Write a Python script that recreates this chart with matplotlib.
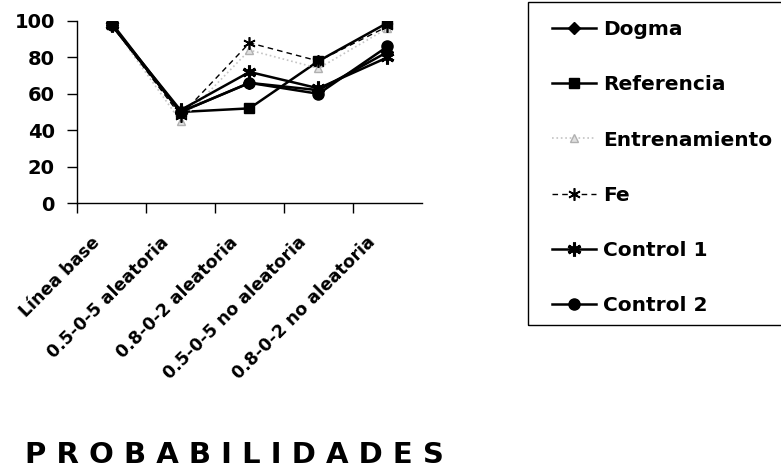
import matplotlib
matplotlib.use("Agg")
import matplotlib.pyplot as plt
from matplotlib.transforms import ScaledTranslation
from matplotlib.patches import Rectangle

plt.rcParams['font.family'] = ['DejaVu Sans']
plt.rcParams['font.weight'] = 'bold'

# categories and series
categorias = ['Línea base', '0.5-0-5 aleatoria', '0.8-0-2 aleatoria',
              '0.5-0-5 no aleatoria', '0.8-0-2 no aleatoria']
dogma = [98, 50, 66, 62, 83]
referencia = [99, 50, 52, 78, 99]
entrenamiento = [98, 45, 84, 74, 96]
fe = [98, 48, 88, 78, 97]
control1 = [98, 51, 72, 63, 80]
control2 = [98, 50, 66, 60, 86]
yticks = [0, 20, 40, 60, 80, 100]

W, H = 781, 469
fig = plt.figure(figsize=(W / 100, H / 100), dpi=100)
ax = fig.add_axes([77 / W, (H - 203) / H, 345 / W, 182 / H])

x = range(len(categorias))
asterisco = (6, 2, 0)

ax.plot(x, dogma, color='black', lw=1.8, marker='D', ms=6, label='Dogma')
ax.plot(x, referencia, color='black', lw=1.8, marker='s', ms=7.5, label='Referencia')
ax.plot(x, entrenamiento, color='#c4c4c4', lw=1.2, ls=':', marker='^', ms=6,
        mfc='#e0e0e0', mec='#b0b0b0', label='Entrenamiento')
ax.plot(x, fe, color='black', lw=1.0, ls=(0, (4, 3)), marker=asterisco, ms=9,
        mew=1.2, label='Fe')
ax.plot(x, control1, color='black', lw=1.8, marker=asterisco, ms=10, mew=2.2,
        label='Control 1')
ax.plot(x, control2, color='black', lw=1.8, marker='o', ms=8, label='Control 2')

ax.set_xlim(-0.5, len(categorias) - 0.5)
ax.set_ylim(0, 100)
for s in ['top', 'right']:
    ax.spines[s].set_visible(False)
for s in ['left', 'bottom']:
    ax.spines[s].set_linewidth(1.0)

ax.set_yticks(yticks)
ax.set_yticklabels([str(v) for v in yticks], fontsize=14, fontweight='bold')
ax.tick_params(axis='y', direction='out', length=7, width=1, pad=9)

ax.set_xticks(list(x))
ax.set_xticks([-0.5, 0.5, 1.5, 2.5, 3.5], minor=True)
ax.tick_params(axis='x', which='major', length=0, pad=0)
ax.tick_params(axis='x', which='minor', direction='out', length=7, width=1)
ax.set_xticklabels(categorias, rotation=45, ha='right', va='top',
                   rotation_mode='anchor', fontsize=12.5, fontweight='bold')
offset = ScaledTranslation(-0.21, -0.30, fig.dpi_scale_trans)
for lab in ax.get_xticklabels():
    lab.set_transform(lab.get_transform() + offset)

# legend with its own frame
leg = ax.legend(loc='upper left', bbox_to_anchor=(552 / W, 1 - 20 / H),
                bbox_transform=fig.transFigure, frameon=False, borderpad=0,
                handlelength=2.2, handletextpad=0.35, labelspacing=1.8,
                prop={'size': 14.5, 'weight': 'bold'}, borderaxespad=0)
fig.patches.append(Rectangle((528 / W, (H - 325) / H), 300 / W, 323 / H,
                             transform=fig.transFigure, fill=False,
                             edgecolor='black', lw=1.0))

fig.text(25 / W, (H - 463) / H, 'P R O B A B I L I D A D E S', fontsize=21,
         fontweight='bold', ha='left', va='baseline')

fig.savefig('out.png', dpi=100)
